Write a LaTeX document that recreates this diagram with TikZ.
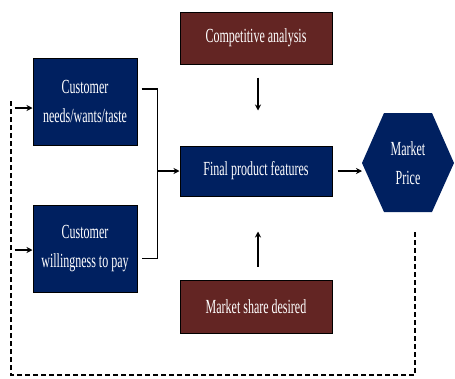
\documentclass[tikz,border=0pt]{standalone}
\usepackage{fontspec}
\setmainfont{Liberation Serif}
\newfontfamily\narrowfont[FakeStretch=0.6]{Liberation Serif}
\usetikzlibrary{arrows.meta,calc}
\definecolor{navy}{RGB}{0,32,96}
\definecolor{maroon}{RGB}{99,37,35}
\begin{document}
\begin{tikzpicture}[x=1pt,y=-1pt,
  box/.style={draw=black,line width=1pt,text=white,align=center,inner sep=0pt,
    font=\narrowfont\fontsize{20}{29}\selectfont},
  bluebox/.style={box,fill=navy},
  redbox/.style={box,fill=maroon},
  conn/.style={line width=1.3pt,black},
  arr/.style={conn,-{Stealth[length=6pt,width=6pt]}},
  fb/.style={line width=1.2pt,dash pattern=on 5pt off 3pt}]
\useasboundingbox (0,0) rectangle (455,378);
\node[bluebox,minimum width=104pt,minimum height=87pt] (needs) at (85,101.5) {Customer\\needs/wants/taste};
\node[bluebox,minimum width=104pt,minimum height=87pt] (will) at (85,248.5) {Customer\\willingness to pay};
\node[redbox,minimum width=152pt,minimum height=52pt] (comp) at (256,38) {Competitive analysis};
\node[bluebox,minimum width=152pt,minimum height=50pt] (final) at (256,171) {Final product features};
\node[redbox,minimum width=152pt,minimum height=53pt] (share) at (256,306.5) {Market share desired};
\fill[navy] (362,163) -- (384,113) -- (432,113) -- (454,163) -- (432,212) -- (384,212) -- cycle;
\node[box,draw=none] (hex) at (408,163) {Market\\Price};
\coordinate (hexL) at (362,171);
\coordinate (hexB) at (415,212);
\coordinate (j) at (157,171);
\coordinate (fbL) at (11,375);
% merge connectors
\draw[conn] ($(needs.east)+(4,-12.5)$) -| ($(will.east)+(20,10)$) -- ($(will.east)+(4,10)$);
\draw[arr] (j) -- (final.west);
\draw[arr] ($(comp.south)+(2,13)$) -- ++(0,33);
\draw[arr] ($(share.north)+(2,-13)$) -- ++(0,-35);
\draw[arr] ($(final.east)+(5,0)$) -- (hexL);
% feedback loop
\draw[fb] ($(hexB)+(0,20)$) |- (fbL) -- ($(fbL)+(0,-275)$);
\draw[arr] ($(needs.west)+(-18,6.5)$) -- ($(needs.west)+(0,6.5)$);
\draw[arr] ($(will.west)+(-18,1.5)$) -- ($(will.west)+(0,1.5)$);
\end{tikzpicture}
\end{document}
